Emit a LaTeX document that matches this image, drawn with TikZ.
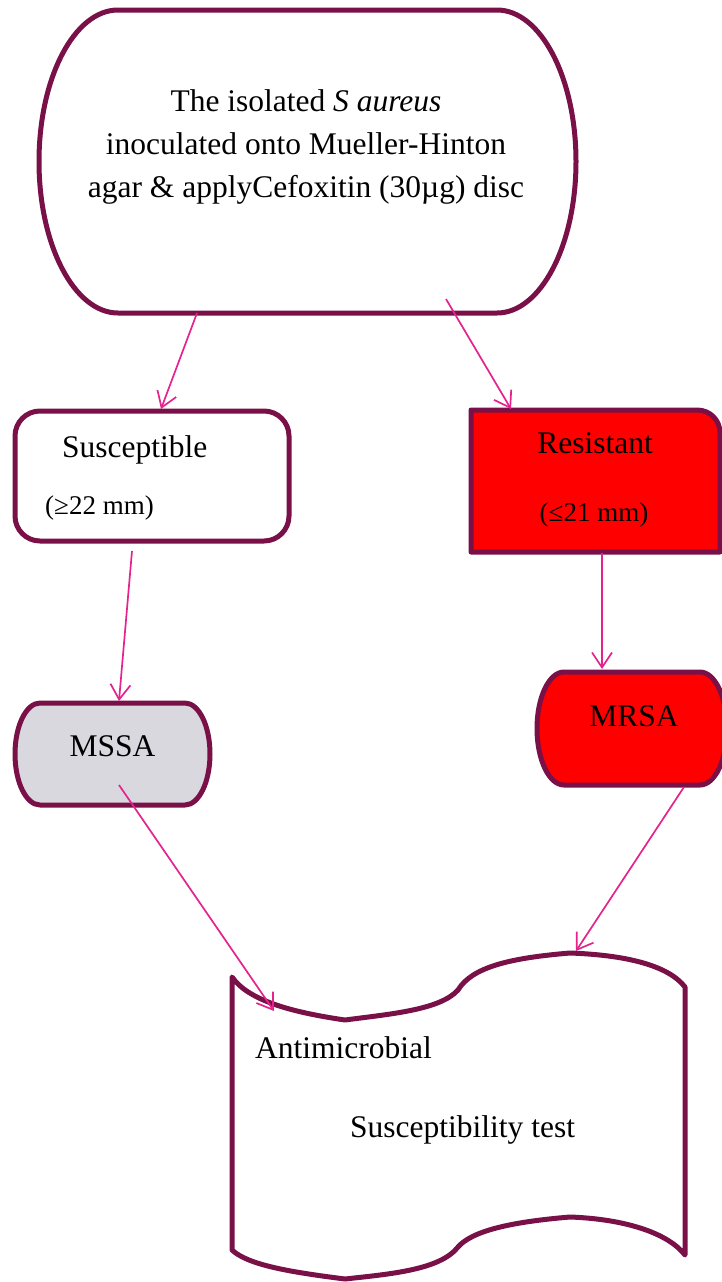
\documentclass[tikz,border=0pt]{standalone}
\usepackage{fontspec}
\setmainfont{Liberation Serif}
\usetikzlibrary{arrows.meta}
\definecolor{bordercol}{RGB}{122,16,72}
\definecolor{arrowcol}{RGB}{228,35,140}
\definecolor{mssafill}{RGB}{217,216,222}
\definecolor{redfill}{RGB}{255,0,0}
\tikzset{
  border/.style={draw=bordercol, line width=5pt, line join=round},
  conn/.style={draw=arrowcol, line width=1.7pt, -{Straight Barb[length=15pt,width=20pt,line width=1.7pt]}},
  lbl/.style={font=\fontsize{31.5}{43}\selectfont, align=center, inner sep=0pt},
  sublbl/.style={font=\fontsize{27}{30}\selectfont, inner sep=0pt},
}
\begin{document}
\begin{tikzpicture}[x=1pt,y=-1pt]
\useasboundingbox (0,0) rectangle (722,1282);

% top node
\draw[border, fill=white] (118,10) -- (497,10)
  .. controls (540.6,10) and (576,77.8) .. (576,161.5)
  .. controls (576,245.2) and (540.6,313) .. (497,313) -- (118,313)
  .. controls (74.4,313) and (39,245.2) .. (39,161.5)
  .. controls (39,77.8) and (74.4,10) .. (118,10) -- cycle;
\node[lbl] (top) at (306,147) {The isolated \textit{S aureus}\\inoculated onto Mueller-Hinton\\agar \& applyCefoxitin (30µg) disc};

% Susceptible
\draw[border, fill=white, rounded corners=25pt] (15,411) rectangle (289,541);
\node[lbl, anchor=west] (susc) at (62,450) {Susceptible};
\node[sublbl, anchor=west] (susclim) at (45,508) {(≥22 mm)};

% Resistant
\draw[border, fill=redfill] (471,410) -- (697,410)
  .. controls (710,410) and (720,420) .. (720,433) -- (720,552) -- (471,552) -- cycle;
\node[lbl] (resist) at (595,443) {Resistant};
\node[sublbl] (resistlim) at (594,515) {(≤21 mm)};

% MSSA
\draw[border, fill=mssafill] (40,703) -- (185,703)
  .. controls (198.8,703) and (210,725.8) .. (210,754)
  .. controls (210,782.2) and (198.8,805) .. (185,805) -- (40,805)
  .. controls (26.2,805) and (15,782.2) .. (15,754)
  .. controls (15,725.8) and (26.2,703) .. (40,703) -- cycle;
\node[lbl] (mssa) at (112.5,746) {MSSA};

% MRSA
\draw[border, fill=redfill] (564,672) -- (700,672)
  .. controls (714.9,672) and (727,697.3) .. (727,728.5)
  .. controls (727,759.7) and (714.9,785) .. (700,785) -- (564,785)
  .. controls (549.1,785) and (537,759.7) .. (537,728.5)
  .. controls (537,697.3) and (549.1,672) .. (564,672) -- cycle;
\node[lbl] (mrsa) at (634,716) {MRSA};

% Antimicrobial susceptibility test (document shape)
\draw[border, fill=white] (232,977)
  .. controls (248,1000) and (290,1012) .. (345,1020)
  .. controls (390,1014) and (440,1010) .. (458,990)
  .. controls (472,967) and (510,958) .. (570,953)
  .. controls (625,955) and (668,965) .. (685,987)
  -- (685,1255)
  .. controls (668,1233) and (625,1219) .. (570,1217)
  .. controls (510,1222) and (472,1231) .. (458,1247)
  .. controls (440,1270) and (390,1274) .. (345,1279)
  .. controls (290,1272) and (248,1265) .. (232,1250) -- cycle;
\node[lbl, anchor=west] (ast1) at (255,1048) {Antimicrobial};
\node[lbl, anchor=west] (ast2) at (350,1130) {Susceptibility test};

% connector end points
\coordinate (top-l) at (197,313);
\coordinate (top-r) at (446,299);
\coordinate (susc-in) at (161,409);
\coordinate (resist-in) at (511,409);
\coordinate (susc-out) at (132,551);
\coordinate (mssa-in) at (119,701);
\coordinate (resist-out) at (602,553);
\coordinate (mrsa-in) at (602,669);
\coordinate (mssa-out) at (119,785);
\coordinate (ast-l) at (274,1011);
\coordinate (mrsa-out) at (684,787);
\coordinate (ast-r) at (576,951);

\draw[conn] (top-l) -- (susc-in);
\draw[conn] (top-r) -- (resist-in);
\draw[conn] (susc-out) -- (mssa-in);
\draw[conn] (resist-out) -- (mrsa-in);
\draw[conn] (mssa-out) -- (ast-l);
\draw[conn] (mrsa-out) -- (ast-r);
\end{tikzpicture}
\end{document}
